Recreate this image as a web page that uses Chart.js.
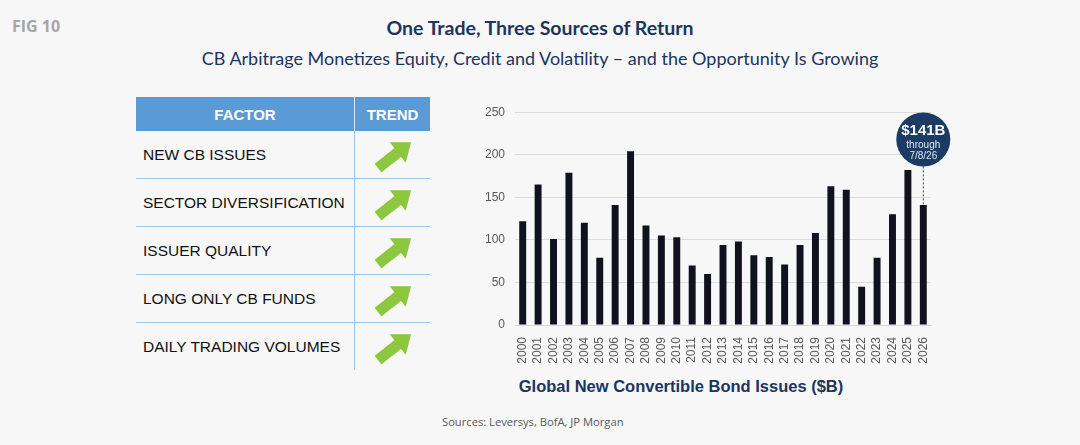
<!DOCTYPE html>
<html>
<head>
<meta charset="utf-8">
<script src="https://cdn.jsdelivr.net/npm/chart.js@4.4.1/dist/chart.umd.min.js"></script>
<style>
  body { margin: 0; width: 1080px; height: 445px; background: #f7f7f7; position: relative; overflow: hidden; font-family: "Liberation Sans", Arial, sans-serif; }
  .fig { position: absolute; left: 12px; top: 15px; font-family: "Open Sans", sans-serif; font-weight: 700; font-size: 16px; color: #a6a6a6; }
  .title { position: absolute; left: 0; width: 1080px; top: 16px; text-align: center; font-family: Lato, sans-serif; font-weight: 700; font-size: 19.5px; color: #1c355e; }
  .subtitle { position: absolute; left: 0; width: 1080px; top: 47px; text-align: center; font-family: Lato, sans-serif; font-size: 18px; color: #1c355e; }
  table { position: absolute; left: 136px; top: 97px; border-collapse: collapse; }
  th { background: #5b9bd5; color: #fff; font-size: 15px; font-weight: 700; height: 34px; padding: 0; }
  th.f { width: 218px; border-right: 1px solid #dbe8f5; }
  th.t { width: 75px; }
  td { height: 47px; padding: 0; border-bottom: 1px solid #9dc3e6; font-size: 15.5px; color: #111; }
  td.f { padding-left: 7px; }
  td.t { border-left: 1px solid #9dc3e6; text-align: center; }
  tr:last-child td { border-bottom: none; }
  td.t svg { display: block; margin: 0 auto; }
  #wrap { position: absolute; left: 460px; top: 95px; width: 500px; height: 270px; }
  .axisTitle { position: absolute; left: 481px; width: 400px; top: 377px; text-align: center; font-weight: 700; font-size: 16.5px; color: #1c355e; }
  .sources { position: absolute; left: 442px; top: 414px; font-family: "Open Sans", sans-serif; font-size: 11.2px; color: #595959; }
</style>
</head>
<body>
<div class="fig">FIG 10</div>
<div class="title">One Trade, Three Sources of Return</div>
<div class="subtitle">CB Arbitrage Monetizes Equity, Credit and Volatility – and the Opportunity Is Growing</div>

<table id="factorTable">
  <thead><tr><th class="f">FACTOR</th><th class="t">TREND</th></tr></thead>
  <tbody></tbody>
</table>

<div id="wrap"><canvas id="cbChart"></canvas></div>
<div class="axisTitle">Global New Convertible Bond Issues ($B)</div>
<div class="sources">Sources: Leversys, BofA, JP Morgan</div>

<script>
// du lieu
const factors = ['NEW CB ISSUES', 'SECTOR DIVERSIFICATION', 'ISSUER QUALITY', 'LONG ONLY CB FUNDS', 'DAILY TRADING VOLUMES'];
const years = ['2000', '2001', '2002', '2003', '2004', '2005', '2006', '2007', '2008', '2009', '2010', '2011', '2012',
    '2013', '2014', '2015', '2016', '2017', '2018', '2019', '2020', '2021', '2022', '2023', '2024', '2025', '2026'];
const issuance = [122, 165, 101, 179, 120, 79, 141, 204, 117, 105, 103, 70, 60,
    94, 98, 82, 80, 71, 94, 108, 163, 159, 45, 79, 130, 182, 141];
const yTicks = [0, 50, 100, 150, 200, 250];
const calloutNote = ['through', '7/8/26'];

// bang yeu to
const arrowSvg = '<svg width="38" height="34" viewBox="0 0 38 34">' +
    '<g transform="translate(4,30) rotate(-38)">' +
    '<polygon points="0,-5.5 25,-5.5 25,-13 42,0 25,13 25,5.5 0,5.5" fill="#8dc63f"/></g></svg>';
const tbody = document.querySelector('#factorTable tbody');
factors.forEach(name => {
    const tr = document.createElement('tr');
    tr.innerHTML = '<td class="f">' + name + '</td><td class="t">' + arrowSvg + '</td>';
    tbody.appendChild(tr);
});

// bong chu thich cho cot cuoi
const calloutPlugin = {
    id: 'callout',
    afterDatasetsDraw(chart) {
        const ctx = chart.ctx;
        const meta = chart.getDatasetMeta(0);
        const last = issuance.length - 1;
        const bar = meta.data[last];
        const cx = bar.x;
        const cy = chart.scales.y.getPixelForValue(218);
        const r = 27;
        ctx.save();
        ctx.strokeStyle = '#444';
        ctx.lineWidth = 1;
        ctx.setLineDash([2, 2]);
        ctx.beginPath();
        ctx.moveTo(cx, cy + r);
        ctx.lineTo(cx, bar.y);
        ctx.stroke();
        ctx.setLineDash([]);
        ctx.fillStyle = '#1b3a64';
        ctx.beginPath();
        ctx.arc(cx, cy, r, 0, Math.PI * 2);
        ctx.fill();
        ctx.fillStyle = '#fff';
        ctx.textAlign = 'center';
        ctx.textBaseline = 'middle';
        ctx.font = 'bold 15px "Liberation Sans", Arial';
        ctx.fillText('$' + issuance[last] + 'B', cx, cy - 9);
        ctx.fillStyle = '#dfe6f0';
        ctx.font = '10px "Liberation Sans", Arial';
        ctx.fillText(calloutNote[0], cx, cy + 6);
        ctx.fillText(calloutNote[1], cx, cy + 17);
        ctx.restore();
    }
};

const ctx = document.getElementById('cbChart').getContext('2d');
const cbChart = new Chart(ctx, {
    type: 'bar',
    data: {
        labels: years,
        datasets: [{
            data: issuance,
            backgroundColor: '#10131f',
            barPercentage: 0.9,
            categoryPercentage: 0.5
        }]
    },
    options: {
        responsive: true,
        maintainAspectRatio: false,
        animation: false,
        layout: { padding: { top: 6, right: 29, left: 0, bottom: 0 } },
        plugins: { legend: { display: false }, tooltip: { enabled: false } },
        scales: {
            x: {
                grid: { display: false },
                border: { color: '#d9d9d9' },
                ticks: {
                    color: '#595959',
                    font: { family: '"Liberation Sans", Arial', size: 12 },
                    minRotation: 90,
                    maxRotation: 90,
                    autoSkip: false,
                    padding: 4
                },
                afterFit: scale => { scale.height = 40; }
            },
            y: {
                min: 0,
                max: 250,
                afterBuildTicks: scale => { scale.ticks = yTicks.map(v => ({ value: v })); },
                grid: { color: '#dcdcdc', drawTicks: false },
                border: { display: false },
                ticks: {
                    color: '#595959',
                    font: { family: '"Liberation Sans", Arial', size: 12 },
                    padding: 10
                },
                afterFit: scale => { scale.width = 55; }
            }
        }
    },
    plugins: [calloutPlugin]
});
</script>
</body>
</html>
